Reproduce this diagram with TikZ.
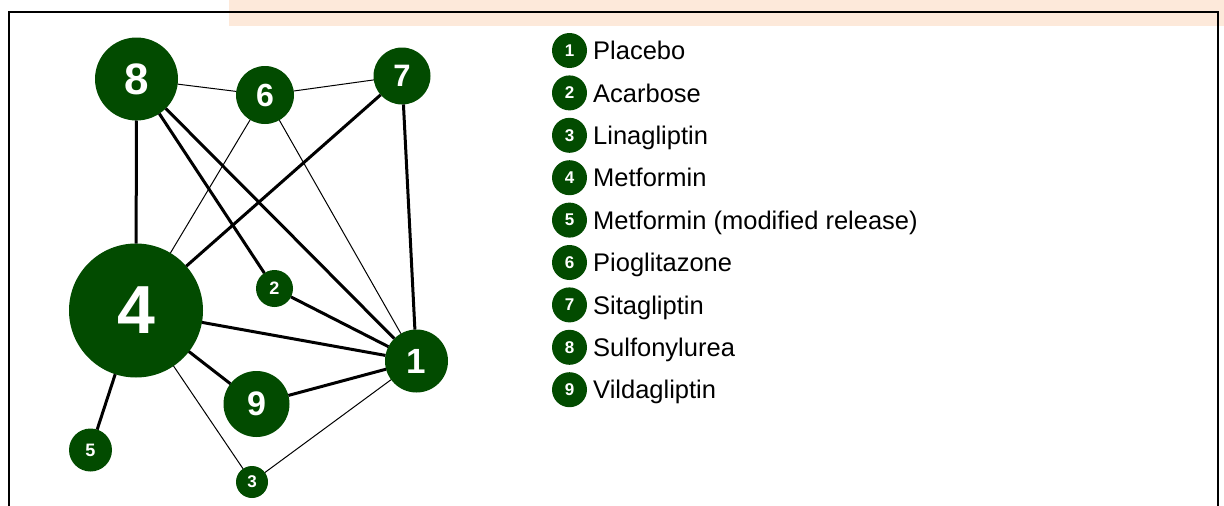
\documentclass[tikz,border=0pt]{standalone}
\usepackage{fontspec}
\setmainfont{Liberation Sans}
\usetikzlibrary{positioning}
\definecolor{nodegreen}{RGB}{2,75,0}
\definecolor{peach}{RGB}{253,233,218}
\tikzset{
  trt/.style 2 args = {circle, fill=nodegreen, text=white,
                minimum size=#1, inner sep=0pt, outer sep=0pt,
                font=\fontsize{#2}{#2}\selectfont\bfseries},
  strong/.style = {line width=3pt},
  weak/.style = {line width=1pt},
  lbl/.style = {inner sep=0pt, text height=18.3pt, text depth=0pt,
                font=\fontsize{25.5}{29}\selectfont}
}

\begin{document}
\begin{tikzpicture}[x=1pt, y=-1pt]
	\useasboundingbox (0,0) rectangle (1224,506);

	% Frame
	\fill[peach] (229,0) rectangle (1224,25.5);
	\draw[line width=2.5pt] (9,506) -- (9,12) -- (1218,12) -- (1218,506);

	% Treatments
	\node[trt={83pt}{44}]  (t8) at (136.5,79)  {8};
	\node[trt={58pt}{32}]  (t6) at (265,95)    {6};
	\node[trt={57pt}{31}]  (t7) at (402,76)    {7};
	\node[trt={134pt}{68}] (t4) at (136,310.5) {4};
	\node[trt={37pt}{18}]  (t2) at (274.5,288.5) {2};
	\node[trt={63pt}{35}]  (t1) at (416.5,361) {1};
	\node[trt={66pt}{34}]  (t9) at (256.5,404) {9};
	\node[trt={43pt}{18}]  (t5) at (90.5,450)  {5};
	\node[trt={32pt}{17}]  (t3) at (252,482)   {3};

	% Comparisons
	\draw[strong] (t8) -- (t4);
	\draw[strong] (t8) -- (t2);
	\draw[strong] (t8) -- (t1);
	\draw[strong] (t7) -- (t4);
	\draw[strong] (t7) -- (t1);
	\draw[strong] (t4) -- (t1);
	\draw[strong] (t4) -- (t9);
	\draw[strong] (t4) -- (t5);
	\draw[strong] (t2) -- (t1);
	\draw[strong] (t9) -- (t1);
	\draw[weak] (t8) -- (t6);
	\draw[weak] (t6) -- (t7);
	\draw[weak] (t6) -- (t4);
	\draw[weak] (t6) -- (t1);
	\draw[weak] (t4) -- (t3);
	\draw[weak] (t3) -- (t1);

	% Legend
	\node[trt={35pt}{17}] (leg1) at (569.5,50.5)  {1};
	\node[trt={35pt}{17}] (leg2) at (569.5,92.9)  {2};
	\node[trt={35pt}{17}] (leg3) at (569.5,135.3) {3};
	\node[trt={35pt}{17}] (leg4) at (569.5,177.7) {4};
	\node[trt={35pt}{17}] (leg5) at (569.5,220.1) {5};
	\node[trt={35pt}{17}] (leg6) at (569.5,262.5) {6};
	\node[trt={35pt}{17}] (leg7) at (569.5,304.9) {7};
	\node[trt={35pt}{17}] (leg8) at (569.5,347.3) {8};
	\node[trt={35pt}{17}] (leg9) at (569.5,389.7) {9};
	\node[lbl, right=6pt of leg1] (name1) {Placebo};
	\node[lbl, right=6pt of leg2] (name2) {Acarbose};
	\node[lbl, right=6pt of leg3] (name3) {Linagliptin};
	\node[lbl, right=6pt of leg4] (name4) {Metformin};
	\node[lbl, right=6pt of leg5] (name5) {Metformin (modified release)};
	\node[lbl, right=6pt of leg6] (name6) {Pioglitazone};
	\node[lbl, right=6pt of leg7] (name7) {Sitagliptin};
	\node[lbl, right=6pt of leg8] (name8) {Sulfonylurea};
	\node[lbl, right=6pt of leg9] (name9) {Vildagliptin};
\end{tikzpicture}
\end{document}
